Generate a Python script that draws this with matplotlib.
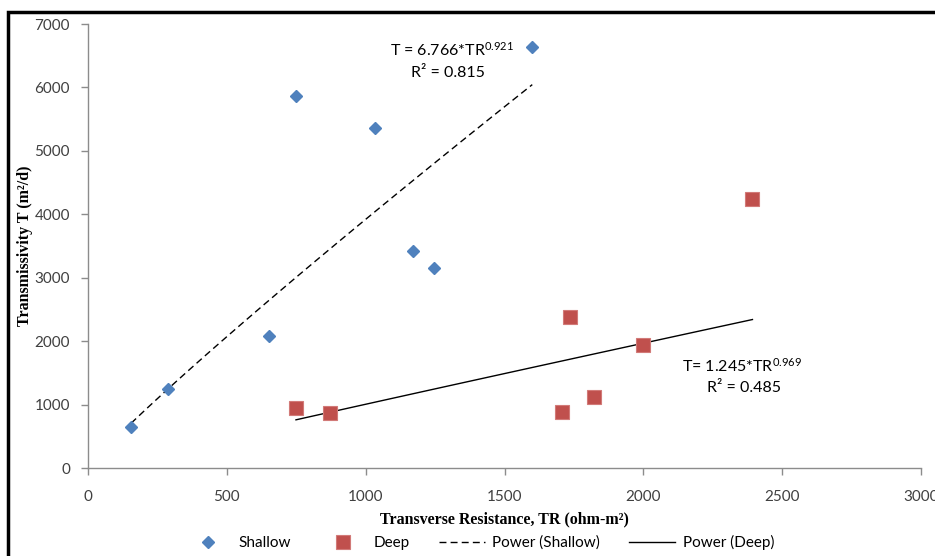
import numpy as np
import matplotlib.pyplot as plt
from matplotlib.patches import Rectangle

# data
shallow_tr = [155, 289, 652, 749, 1033, 1170, 1246, 1600]
shallow_t = [651, 1241, 2081, 5860, 5365, 3421, 3153, 6642]
deep_tr = [749, 871, 1707, 1736, 1822, 1999, 2393]
deep_t = [951, 867, 883, 2381, 1119, 1939, 4246]

# power trendline coefficients as printed on the chart
shallow_fit = (6.766, 0.921, 0.815)
deep_fit = (1.245, 0.969, 0.485)

plt.rcParams['font.family'] = ['Lato', 'DejaVu Sans']
plt.rcParams['mathtext.fontset'] = 'custom'
plt.rcParams['mathtext.rm'] = 'Lato'
plt.rcParams['mathtext.it'] = 'Lato'

fig = plt.figure(figsize=(9.35, 5.56), dpi=100)
ax = fig.add_axes([88 / 935, 88 / 556, 833 / 935, 444 / 556])

ax.plot(shallow_tr, shallow_t, linestyle='none', marker='D', markersize=6.6,
        color='#4F81BD', markeredgecolor='#4F81BD', label='Shallow', zorder=3)
ax.plot(deep_tr, deep_t, linestyle='none', marker='s', markersize=9.6,
        color='#C0504D', markeredgecolor='#D27A78', markeredgewidth=0.8,
        label='Deep', zorder=3)

xs = np.linspace(min(shallow_tr), max(shallow_tr), 100)
a, b, r2 = shallow_fit
ax.plot(xs, a * xs ** b, color='black', linewidth=1.0, dashes=(5, 3),
        label='Power (Shallow)')
xd = np.linspace(min(deep_tr), max(deep_tr), 100)
c, d, r2d = deep_fit
ax.plot(xd, c * xd ** d, color='black', linewidth=1.0, label='Power (Deep)')

ax.text(1311, 6590, 'T = %.3f*TR$^{%.3f}$' % (a, b), ha='center', va='center',
        fontsize=11.5)
ax.text(1295, 6227, 'R\u00b2 = %.3f' % r2, ha='center', va='center', fontsize=11.5)
ax.text(2355, 1608, 'T= %.3f*TR$^{%.3f}$' % (c, d), ha='center', va='center',
        fontsize=11.5)
ax.text(2362, 1261, 'R\u00b2 = %.3f' % r2d, ha='center', va='center', fontsize=11.5)

ax.set_xlim(0, 3000)
ax.set_ylim(0, 7000)
ax.set_xticks(range(0, 3001, 500))
ax.set_yticks(range(0, 7001, 1000))
for s in ['top', 'right']:
    ax.spines[s].set_visible(False)
for s in ['left', 'bottom']:
    ax.spines[s].set_color('#8C8C8C')
    ax.spines[s].set_linewidth(1.0)
ax.tick_params(colors='#8C8C8C', length=5, width=1.0, labelcolor='#404040',
               labelsize=11)
ax.tick_params(axis='x', pad=11)
ax.tick_params(axis='y', pad=8)

ax.set_xlabel('Transverse Resistance, TR (ohm-m\u00b2)', family='Liberation Serif',
              fontweight='bold', fontsize=11.5, labelpad=5)
ax.set_ylabel('Transmissivity T (m\u00b2/d)', family='Liberation Serif',
              fontweight='bold', fontsize=11.5, labelpad=1)

fig.legend(loc='center', bbox_to_anchor=(0.513, 0.024), ncol=4, frameon=False,
           fontsize=11, handlelength=3.0, columnspacing=1.9, handletextpad=0.5)

# outer black frame
fig.patches.append(Rectangle((8 / 935, -0.1), 1.1, (556 - 12) / 556 + 0.1,
                             transform=fig.transFigure, fill=False,
                             edgecolor='black', linewidth=2.5))

fig.savefig('out.png', dpi=100)
